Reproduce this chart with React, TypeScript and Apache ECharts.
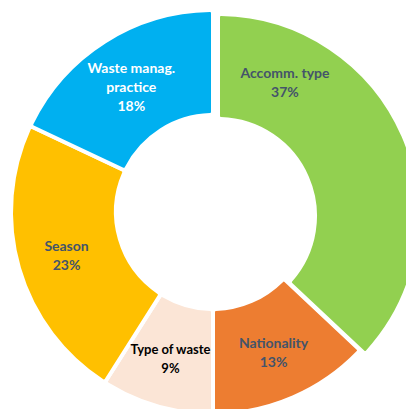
import React, { useEffect, useRef } from "react";
import * as echarts from "echarts";

const categories = ["Accomm. type", "Nationality", "Type of waste", "Season", "Waste manag.\npractice"];
const shares = [37, 13, 9, 23, 18];
const sliceColors = ["#92D050", "#ED7D31", "#FBE5D6", "#FFC000", "#00B0F0"];
const labelColors = ["#44546A", "#44546A", "#000000", "#44546A", "#FFFFFF"];
const explodedIndex = 0;

export default function App() {
  const ref = useRef<HTMLDivElement>(null);
  useEffect(() => {
    if (!ref.current) return;
    const chart = echarts.init(ref.current, null, { renderer: "svg" });
    const makeData = (visibleExploded: boolean) =>
      categories.map((name, i) => {
        const show = visibleExploded ? i === explodedIndex : i !== explodedIndex;
        return {
          name,
          value: shares[i],
          itemStyle: show
            ? { color: sliceColors[i], borderColor: "#ffffff", borderWidth: 4, borderRadius: 3 }
            : { color: "rgba(0,0,0,0)", borderColor: "rgba(0,0,0,0)", borderWidth: 0 },
          label: show
            ? {
                show: true,
                color: labelColors[i],
                ...(i === explodedIndex ? { offset: [-73, -73] } : {}),
                ...(i === 4 ? { offset: [0, 3] } : {}),
                ...(i === 2 ? { fontSize: 13 } : {}),
              }
            : { show: false },
        };
      });
    const common = {
      type: "pie",
      radius: [97, 202],
      startAngle: 90,
      clockwise: true,
      avoidLabelOverlap: false,
      silent: true,
      label: {
        position: "inside",
        formatter: "{b}\n{c}%",
        fontFamily: "Lato",
        fontWeight: "bold",
        fontSize: 14,
        lineHeight: 19,
        align: "center",
      },
      labelLine: { show: false },
      emphasis: { disabled: true },
    };
    chart.setOption({
      animation: false,
      backgroundColor: "#ffffff",
      series: [
        { ...common, center: [213, 212], data: makeData(false) },
        { ...common, center: [218, 216], data: makeData(true) },
      ],
    });
    return () => chart.dispose();
  }, []);
  return <div ref={ref} style={{ position: "fixed", left: 0, top: 0, width: 406, height: 409 }} />;
}
